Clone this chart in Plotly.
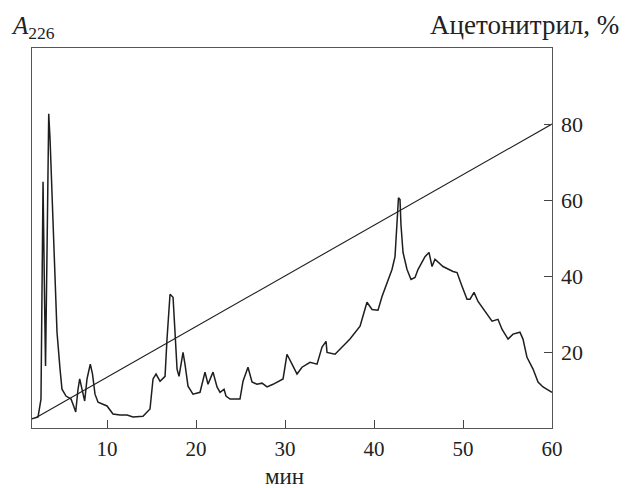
import plotly.graph_objects as go

# Chromatogram: retention time (min) and absorbance at 226 nm (relative units)
time_min = [1.57, 2.25, 2.58, 2.81, 2.98, 3.09, 3.26, 3.45, 3.60, 3.82, 4.16, 4.38, 4.72,
            4.94, 5.39, 5.96, 6.29, 6.48, 6.74, 6.93, 7.13, 7.49, 7.75, 8.12, 8.37, 8.65,
            8.99, 10.0, 10.67, 11.46, 12.25, 12.92, 14.04, 14.83, 15.17, 15.51, 15.96,
            16.52, 16.74, 17.08, 17.42, 17.64, 17.87, 18.09, 18.54, 18.76, 19.10, 19.66,
            20.45, 21.01, 21.35, 21.91, 22.36, 22.70, 23.15, 23.37, 23.82, 24.94, 25.28,
            25.84, 26.29, 26.85, 27.42, 27.98, 28.65, 29.78, 30.22, 30.90, 31.35, 31.91,
            32.81, 33.60, 34.16, 34.61, 34.72, 35.62, 36.52, 37.30, 38.43, 38.76, 39.21,
            39.78, 40.45, 40.90, 41.46, 42.02, 42.36, 42.58, 42.75, 42.92, 43.03, 43.26,
            43.71, 44.16, 44.61, 44.94, 45.73, 46.18, 46.52, 46.85, 47.75, 48.88, 49.33,
            49.89, 50.45, 50.79, 51.24, 51.69, 52.47, 53.26, 53.93, 54.38, 55.06, 55.62,
            56.40, 56.74, 57.19, 57.87, 58.43, 58.99, 60.0]
absorbance = [2.4, 2.9, 7.6, 64.8, 33.9, 16.3, 47.0, 82.7, 75.9, 60.1, 37.3, 25.2, 15.5,
              10.2, 8.4, 7.6, 5.5, 4.2, 10.2, 12.9, 10.8, 7.1, 12.9, 16.8, 14.2, 8.9,
              6.8, 5.8, 3.7, 3.4, 3.4, 2.9, 3.1, 5.0, 12.9, 14.2, 12.3,
              13.6, 23.4, 35.2, 34.4, 23.4, 15.5, 13.6, 19.9, 16.8, 11.0, 8.9,
              9.4, 14.7, 11.5, 14.7, 10.8, 9.4, 10.2, 8.4, 7.6, 7.6, 12.3,
              16.0, 12.1, 11.5, 11.8, 10.8, 11.5, 12.9, 19.4, 16.3, 14.2, 16.0,
              17.3, 16.8, 21.3, 22.8, 19.9, 19.4, 21.5, 23.4, 26.8, 29.4, 33.1,
              31.2, 31.0, 34.6, 38.3, 41.7, 45.1, 53.0, 60.6, 60.1, 53.5, 46.2,
              41.7, 39.1, 39.6, 41.7, 45.1, 46.2, 42.5, 44.4, 42.5, 41.2, 40.9,
              37.3, 33.9, 33.9, 35.7, 33.3, 30.7, 28.1, 28.6, 26.0, 23.4, 24.7,
              25.2, 23.4, 18.6, 15.5, 12.1, 10.8, 9.4]

# Linear acetonitrile gradient
gradient_time = [2.0, 60.0]
gradient_acn = [2.7, 80.0]

x_ticks = [10, 20, 30, 40, 50, 60]
acn_ticks = [20, 40, 60, 80]

ink = "#1e1e1e"
serif = "Liberation Serif"

fig = go.Figure()
fig.add_trace(go.Scatter(x=time_min, y=absorbance, mode="lines",
                         line=dict(color=ink, width=1.5), yaxis="y", showlegend=False))
fig.add_trace(go.Scatter(x=gradient_time, y=gradient_acn, mode="lines",
                         line=dict(color=ink, width=1.1), yaxis="y2", showlegend=False))

fig.update_layout(
    width=625, height=488,
    margin=dict(l=32, r=73, t=48, b=60),
    paper_bgcolor="white", plot_bgcolor="white",
    font=dict(family=serif, size=22, color="#222"),
    xaxis=dict(range=[1.57, 60], tickvals=x_ticks, ticks="inside", ticklen=8,
               tickcolor="#444", showline=True, linecolor="#555", linewidth=1.2,
               mirror=True, showgrid=False, zeroline=False, ticklabelstandoff=2,
               tickfont=dict(family=serif, size=21, color="#222")),
    yaxis=dict(range=[0, 100], showticklabels=False, ticks="", showline=True,
               linecolor="#555", linewidth=1.2, mirror=True, showgrid=False,
               zeroline=False),
    yaxis2=dict(range=[0, 100], overlaying="y", side="right", tickvals=acn_ticks,
                ticks="inside", ticklen=8, tickcolor="#444", showgrid=False,
                zeroline=False, showline=False, ticklabelstandoff=8),
    annotations=[
        dict(text="<i>A</i><sub>226</sub>", xref="paper", yref="paper",
             x=-0.045, y=1.055, xanchor="left", yanchor="middle", showarrow=False,
             font=dict(family=serif, size=25, color="#222")),
        dict(text="Ацетонитрил, %", xref="paper", yref="paper",
             x=1.133, y=1.06, xanchor="right", yanchor="middle", showarrow=False,
             font=dict(family=serif, size=27, color="#222")),
        dict(text="мин", xref="paper", yref="paper",
             x=0.485, y=-0.128, xanchor="center", yanchor="middle", showarrow=False,
             font=dict(family=serif, size=23, color="#222")),
    ],
)

fig.write_html("out.html")
